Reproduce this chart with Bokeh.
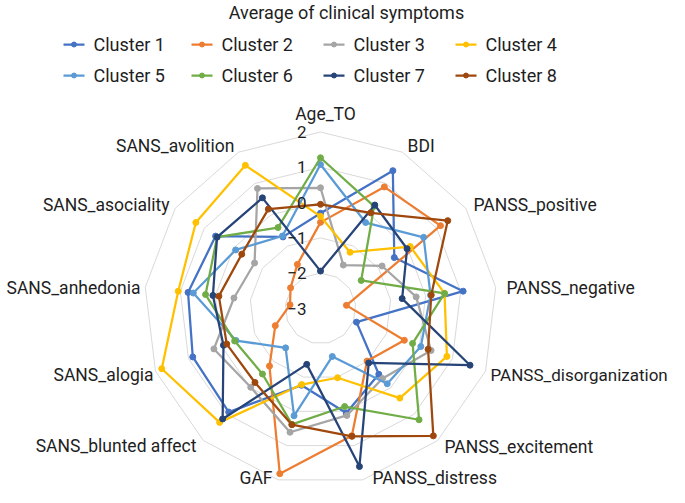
import numpy as np
from bokeh.plotting import figure
from bokeh.models import Range1d
from bokeh.core.properties import value
from bokeh.embed import file_html
from bokeh.resources import INLINE

# ---------------- data ----------------
title = "Average of clinical symptoms"
categories = ["Age_TO", "BDI", "PANSS_positive", "PANSS_negative", "PANSS_disorganization",
              "PANSS_excitement", "PANSS_distress", "GAF", "SANS_blunted affect", "SANS_alogia",
              "SANS_anhedonia", "SANS_asociality", "SANS_avolition"]
series_names = ["Cluster 1", "Cluster 2", "Cluster 3", "Cluster 4",
                "Cluster 5", "Cluster 6", "Cluster 7", "Cluster 8"]
cluster1 = [-0.30, 1.41, -0.46, 1.07, -1.91, -0.51, 0.05, -0.76, 0.92, 0.87, 0.78, 0.61, -0.71]
cluster2 = [-0.56, 0.89, 1.13, -2.26, -0.46, -1.01, 0.71, 1.82, -0.82, -1.63, -2.13, -1.97, -1.59]
cluster3 = [0.42, -1.61, -0.88, -0.27, 0.35, -0.35, 0.12, 0.61, -0.02, 0.23, -0.53, -0.73, 0.84]
cluster4 = [-0.39, -1.20, 0.09, 0.54, 0.83, 0.39, -0.98, -0.78, 1.31, 1.81, 1.06, 1.29, 1.58]
cluster5 = [1.08, -0.25, 0.55, 0.14, 0.04, -0.15, -1.60, 0.13, -1.51, -0.44, 0.63, -0.08, -0.68]
cluster6 = [1.27, 0.27, -1.60, 0.54, -0.21, 1.21, -0.14, 0.38, -0.52, -0.40, 0.28, 0.56, -0.41]
cluster7 = [-1.94, 0.31, -0.02, -0.67, 1.53, -0.94, 1.61, -1.37, 1.18, -0.06, 0.07, 0.56, 0.54]
cluster8 = [-0.05, 0.06, 1.38, 0.16, 0.26, 1.82, 0.73, 0.39, -0.20, -0.16, -0.10, -0.29, 0.18]
tick_values = [2, 1, 0, -1, -2, -3]
tick_labels = ["2", "1", "0", "\u22121", "\u22122", "\u22123"]
axis_min = -3

all_series = [cluster1, cluster2, cluster3, cluster4, cluster5, cluster6, cluster7, cluster8]
colors = ["#4472C4", "#ED7D31", "#A5A5A5", "#FFC000", "#5B9BD5", "#70AD47", "#264478", "#9E480E"]

# ---------------- layout ----------------
W, H = 669, 487
S = 35.3              # px per unit
CX, CY = 320, 308     # radar centre in picture px
FONT = "Roboto"
TXT = "#1e1e1e"

def px(X, Y):
    return (X - CX) / S, (CY - Y) / S

p = figure(width=W, height=H, output_backend="svg", toolbar_location=None,
           x_range=Range1d((0 - CX) / S, (W - CX) / S),
           y_range=Range1d((CY - H) / S, (CY - 0) / S),
           min_border=0, outline_line_color=None, background_fill_color="white")
p.xaxis.visible = False
p.yaxis.visible = False
p.xgrid.visible = False
p.ygrid.visible = False

n = len(categories)
ang = np.pi / 2 - 2 * np.pi * np.arange(n) / n   # clockwise from top
cosA, sinA = np.cos(ang), np.sin(ang)

# rings
for tv in tick_values:
    r = tv - axis_min
    if r <= 0:
        continue
    xs = list(r * cosA) + [r * cosA[0]]
    ys = list(r * sinA) + [r * sinA[0]]
    p.line(xs, ys, line_color="#D9D9D9", line_width=1)

# series
for vals, c in zip(all_series, colors):
    r = np.array(vals) - axis_min
    xs = r * cosA
    ys = r * sinA
    p.line(list(xs) + [xs[0]], list(ys) + [ys[0]], line_color=c, line_width=2.25)
    p.scatter(xs, ys, size=6, fill_color=c, line_color=c)

# tick labels
tx = (306 - CX) / S
p.text(x=[tx] * len(tick_values), y=[tv - axis_min for tv in tick_values], text=tick_labels,
       text_align="right", text_baseline="middle", text_font=value(FONT),
       text_font_size="17px", text_color=TXT)

# category labels
label_pos = [(325, 113, "center", "17.5px"), (407, 145, "left", "17.5px"),
             (473, 204, "left", "17.5px"), (506, 287, "left", "17.5px"),
             (490, 374, "left", "17px"), (444, 446, "left", "17.5px"),
             (372, 477, "left", "17.5px"), (272, 477, "right", "17.5px"),
             (196, 445, "right", "17.5px"), (153, 374, "right", "17.5px"),
             (140, 287, "right", "17.5px"), (169, 204, "right", "17.5px"),
             (234, 145, "right", "17.5px")]
for lab, (X, Y, al, fs) in zip(categories, label_pos):
    x, y = px(X, Y)
    p.text(x=[x], y=[y], text=[lab], text_align=al, text_baseline="middle",
           text_font=value(FONT), text_font_size=fs, text_color=TXT)

# title
tx_, ty_ = px(346, 12)
p.text(x=[tx_], y=[ty_], text=[title], text_align="center", text_baseline="middle",
       text_font=value(FONT), text_font_size="18px", text_color=TXT)

# legend
col_x = [63, 191, 323, 455]
row_y = [44, 75]
for i, (name, c) in enumerate(zip(series_names, colors)):
    X0 = col_x[i % 4]
    Y0 = row_y[i // 4]
    x0, y0 = px(X0, Y0)
    x1, _ = px(X0 + 21, Y0)
    xm, _ = px(X0 + 10.5, Y0)
    xt, _ = px(X0 + 30, Y0)
    p.segment(x0=[x0], y0=[y0], x1=[x1], y1=[y0], line_color=c, line_width=2.25)
    p.scatter([xm], [y0], size=5, fill_color=c, line_color=c)
    p.text(x=[xt], y=[y0], text=[name], text_align="left", text_baseline="middle",
           text_font=value(FONT), text_font_size="18px", text_color=TXT)

open("out.html", "w").write(file_html(p, INLINE))
